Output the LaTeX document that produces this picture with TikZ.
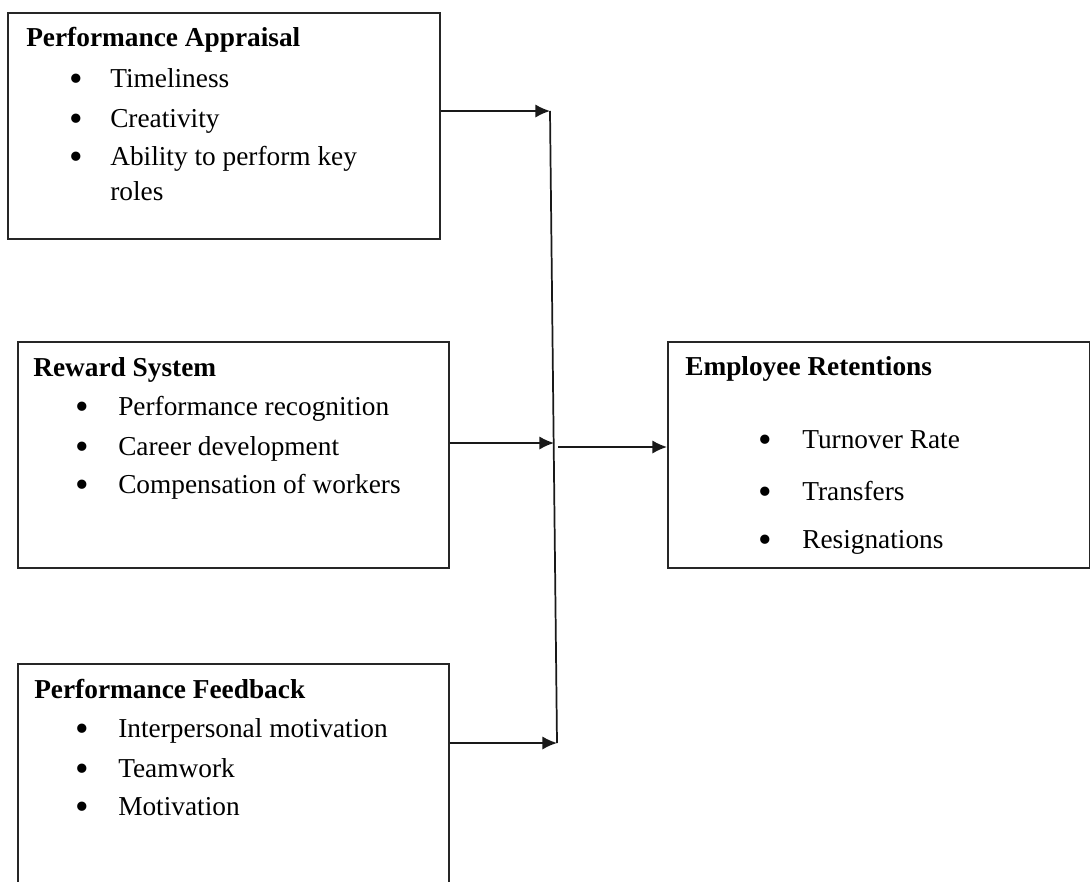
\documentclass[tikz,border=0pt]{standalone}
\usepackage{fontspec}
\setmainfont{Liberation Serif}
\usetikzlibrary{arrows.meta}
\begin{document}
\begin{tikzpicture}[x=0.75pt,y=-0.75pt,
  box/.style={draw=black!85,line width=1.4pt,inner sep=0,anchor=north west},
  ttl/.style={anchor=base west,inner sep=0,font=\fontsize{20.5}{24}\selectfont\bfseries},
  itm/.style={anchor=base west,inner sep=0,font=\fontsize{20.5}{24}\selectfont},
  bul/.style={anchor=base,inner sep=0,font=\fontsize{29}{30}\selectfont},
  conn/.style={line width=1.3pt,black!90},
  arr/.style={conn,-{Latex[length=11pt,width=10pt]}}]
\useasboundingbox (0,0) rectangle (1090,882);
\clip (0,0) rectangle (1090,882);
% boxes
\node[box,minimum width=432*0.75pt,minimum height=226*0.75pt] (pa) at (7,12) {};
\node[box,minimum width=431*0.75pt,minimum height=226*0.75pt] (rs) at (17,341) {};
\node[box,minimum width=431*0.75pt,minimum height=260*0.75pt] (pf) at (17,663) {};
\node[box,minimum width=422*0.75pt,minimum height=226*0.75pt] (er) at (667,341) {};
% Performance Appraisal
\node[ttl] (pat) at (26,46) {Performance Appraisal};
\node[bul] (pab1) at (76,91) {•};
\node[itm] (pai1) at (110,87) {Timeliness};
\node[bul] (pab2) at (76,131) {•};
\node[itm] (pai2) at (110,127) {Creativity};
\node[bul] (pab3) at (76,169) {•};
\node[itm] (pai3) at (110,165) {Ability to perform key};
\node[itm] (pai4) at (110,200) {roles};
% Reward System
\node[ttl] (rst) at (33,376) {Reward System};
\node[bul] (rsb1) at (82,419) {•};
\node[itm] (rsi1) at (118,415) {Performance recognition};
\node[bul] (rsb2) at (82,459) {•};
\node[itm] (rsi2) at (118,455) {Career development};
\node[bul] (rsb3) at (82,497) {•};
\node[itm] (rsi3) at (118,493) {Compensation of workers};
% Performance Feedback
\node[ttl] (pft) at (34,698) {Performance Feedback};
\node[bul] (pfb1) at (82,741) {•};
\node[itm] (pfi1) at (118,737) {Interpersonal motivation};
\node[bul] (pfb2) at (82,781) {•};
\node[itm] (pfi2) at (118,777) {Teamwork};
\node[bul] (pfb3) at (82,819) {•};
\node[itm] (pfi3) at (118,815) {Motivation};
% Employee Retentions
\node[ttl] (ert) at (685,375) {Employee Retentions};
\node[bul] (erb1) at (765,452) {•};
\node[itm] (eri1) at (802,448) {Turnover Rate};
\node[bul] (erb2) at (765,504) {•};
\node[itm] (eri2) at (802,500) {Transfers};
\node[bul] (erb3) at (765,552) {•};
\node[itm] (eri3) at (802,548) {Resignations};
% connectors
\coordinate (j1) at (550,111);
\coordinate (j2) at (554,443);
\coordinate (j3) at (557,743);
\coordinate (j4) at (558,447);
\draw[arr] (pa.east |- j1) -- (j1);
\draw[arr] (rs.east |- j2) -- (j2);
\draw[arr] (pf.east |- j3) -- (j3);
\draw[conn] (j1) -- (j3);
\draw[arr] (j4) -- (er.west |- j4);
\end{tikzpicture}
\end{document}
